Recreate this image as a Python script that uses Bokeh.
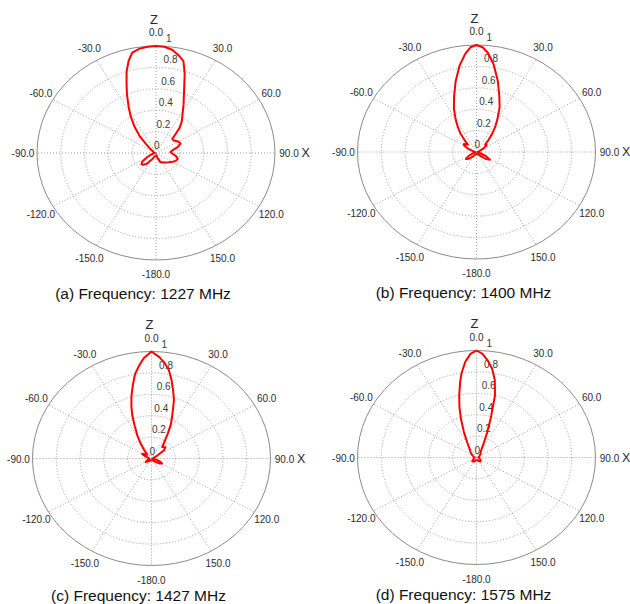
import numpy as np
from bokeh.plotting import figure
from bokeh.layouts import gridplot
from bokeh.models import Range1d
from bokeh.core.properties import value
from bokeh.embed import file_html
from bokeh.resources import INLINE

# ---------------- data (angle in degrees clockwise from +Z, normalised gain) ----------------
captions = ["(a) Frequency: 1227 MHz", "(b) Frequency: 1400 MHz",
            "(c) Frequency: 1427 MHz", "(d) Frequency: 1575 MHz"]

theta_a = [-180, -165, -152, -142, -135, -130, -125, -118, -110, -100, -85, -70, -58, -50, -45, -41,
           -36, -32, -28, -24, -21, -18, -15, -12, -8, -4, 0, 4, 8, 12, 15, 18, 22, 27, 32, 36, 40,
           43, 46, 52, 60, 67, 73, 80, 86, 93, 100, 106, 112, 120, 129, 140, 150, 157, 165, 172]
r_a = [0.02, 0.03, 0.06, 0.13, 0.155, 0.16, 0.14, 0.085, 0.04, 0.02, 0.01, 0.02, 0.035, 0.07, 0.12, 0.21,
       0.31, 0.40, 0.49, 0.60, 0.69, 0.80, 0.89, 0.96, 0.985, 0.995, 1.0, 0.995, 0.975, 0.93, 0.89, 0.78,
       0.63, 0.51, 0.42, 0.37, 0.31, 0.24, 0.19, 0.19, 0.215, 0.225, 0.19, 0.14, 0.122, 0.14, 0.17, 0.19,
       0.185, 0.165, 0.139, 0.115, 0.10, 0.095, 0.05, 0.02]

theta_b = [-180, -160, -145, -135, -127, -120, -110, -95, -80, -68, -60, -55, -50, -46, -42, -38, -34,
           -30, -25, -20, -15, -10, -6, -3, 0, 3, 6, 10, 15, 20, 25, 30, 34, 38, 42, 46, 50, 55, 62,
           72, 90, 108, 116, 123, 130, 140, 160]
r_b = [0.01, 0.02, 0.05, 0.09, 0.11, 0.08, 0.03, 0.01, 0.02, 0.07, 0.12, 0.13, 0.11, 0.10, 0.15, 0.22,
       0.28, 0.35, 0.45, 0.55, 0.68, 0.82, 0.92, 0.98, 1.0, 0.98, 0.93, 0.83, 0.69, 0.56, 0.46, 0.35,
       0.28, 0.21, 0.15, 0.10, 0.11, 0.10, 0.06, 0.02, 0.01, 0.03, 0.09, 0.134, 0.10, 0.04, 0.02]

theta_c = [-180, -160, -140, -124, -115, -100, -85, -70, -61, -52, -45, -38, -33, -29, -25, -22, -19,
           -16, -13, -10, -7, -4, 0, 4, 7, 10, 13, 16, 19, 23, 27, 31, 35, 40, 45, 48, 54, 60, 70,
           90, 105, 112, 118, 125, 135, 150, 165]
r_c = [0.01, 0.02, 0.03, 0.06, 0.04, 0.02, 0.02, 0.05, 0.09, 0.06, 0.05, 0.10, 0.17, 0.245, 0.33, 0.43,
       0.52, 0.61, 0.70, 0.80, 0.87, 0.94, 1.0, 0.95, 0.90, 0.84, 0.75, 0.66, 0.58, 0.45, 0.36, 0.26,
       0.19, 0.14, 0.15, 0.158, 0.13, 0.06, 0.02, 0.01, 0.04, 0.08, 0.10, 0.08, 0.04, 0.02, 0.01]

theta_d = [-180, -155, -135, -120, -100, -80, -60, -46, -36, -29, -24, -20, -17, -14, -11, -9, -6, -3,
           0, 3, 6, 9, 12, 15, 18, 21, 24, 30, 35, 45, 60, 80, 100, 120, 140, 160]
r_d = [0.02, 0.04, 0.05, 0.03, 0.02, 0.02, 0.04, 0.07, 0.10, 0.16, 0.26, 0.38, 0.49, 0.60, 0.72, 0.80,
       0.90, 0.97, 1.0, 0.97, 0.91, 0.84, 0.74, 0.60, 0.39, 0.25, 0.155, 0.08, 0.06, 0.05, 0.03, 0.02,
       0.02, 0.04, 0.05, 0.03]

ring_values = [0.2, 0.4, 0.6, 0.8]
ring_labels = ["0", "0.2", "0.4", "0.6", "0.8", "1"]
ring_label_values = [0.0, 0.2, 0.4, 0.6, 0.8, 1.0]
spoke_angles = [0, 30, 60, 90, 120, 150, 180, 210, 240, 270, 300, 330]
spoke_labels = ["0.0", "30.0", "60.0", "90.0", "120.0", "150.0", "-180.0",
                "-150.0", "-120.0", "-90.0", "-60.0", "-30.0"]

series = [(theta_a, r_a), (theta_b, r_b), (theta_c, r_c), (theta_d, r_d)]

# ---------------- layout / style ----------------
W, H = 315, 302
SX, SY = 119.0, 107.0          # pixels per unit (x, y)
centers = [(155.5, 152.5), (161.0, 151.5), (151.0, 156.0), (161.0, 155.0)]
caption_offset = [140, 140, 137, 137]       # px below centre
FONT = value("Liberation Sans")


def make_panel(idx):
    cx, cy = centers[idx]
    th, rr = series[idx]
    p = figure(width=W, height=H, output_backend="svg", toolbar_location=None,
               x_axis_type=None, y_axis_type=None,
               x_range=Range1d(-cx / SX, (W - cx) / SX),
               y_range=Range1d(-(H - cy) / SY, cy / SY),
               min_border=0, outline_line_color=None,
               background_fill_color="white", border_fill_color="white")
    p.grid.visible = False

    # dotted rings
    rv = np.array(ring_values)
    p.ellipse(x=0, y=0, width=2 * rv, height=2 * rv, fill_color=None,
              line_color="#9a9a9a", line_dash="1 2", line_width=1)
    # dotted spokes
    sa = np.radians(spoke_angles)
    p.multi_line(xs=[[0, np.sin(a)] for a in sa], ys=[[0, np.cos(a)] for a in sa],
                 line_color="#9a9a9a", line_dash="1 2", line_width=1)
    # outer ring
    p.ellipse(x=0, y=0, width=2.0, height=2.0, fill_color=None,
              line_color="#8a8a8a", line_width=1)

    # angle labels
    p.text(x=np.sin(sa) * (1 + 14 / SX), y=np.cos(sa) * (1 + 14 / SY), text=spoke_labels,
           text_font=FONT, text_font_size="10px", text_color="#2a2a2a",
           text_align="center", text_baseline="middle")
    # ring labels
    lv = np.array(ring_label_values)
    p.text(x=(-2 + 12 * lv) / SX, y=lv + 8 / SY, text=ring_labels,
           text_font=FONT, text_font_size="10px", text_color="#3a3a3a",
           text_align="left", text_baseline="middle")
    # axis letters
    p.text(x=[-2 / SX], y=[134 / SY], text=["Z"], text_font=FONT, text_font_size="13px",
           text_color="#2a2a2a", text_align="center", text_baseline="middle")
    p.text(x=[145.5 / SX], y=[0], text=["X"], text_font=FONT, text_font_size="12.5px",
           text_color="#2a2a2a", text_align="left", text_baseline="middle")

    # pattern
    t = np.radians(np.array(th + [th[0]], dtype=float))
    r = np.array(rr + [rr[0]], dtype=float)
    p.line(x=r * np.sin(t), y=r * np.cos(t), line_color="#ff0000", line_width=2,
           line_join="round")

    # caption
    p.text(x=[-13 / SX], y=[-caption_offset[idx] / SY], text=[captions[idx]], text_font=FONT,
           text_font_size="15.5px", text_color="#111111",
           text_align="center", text_baseline="middle")
    return p


panels = [make_panel(i) for i in range(4)]
layout = gridplot([[panels[0], panels[1]], [panels[2], panels[3]]], toolbar_location=None)

open("out.html", "w").write(file_html(layout, INLINE))
